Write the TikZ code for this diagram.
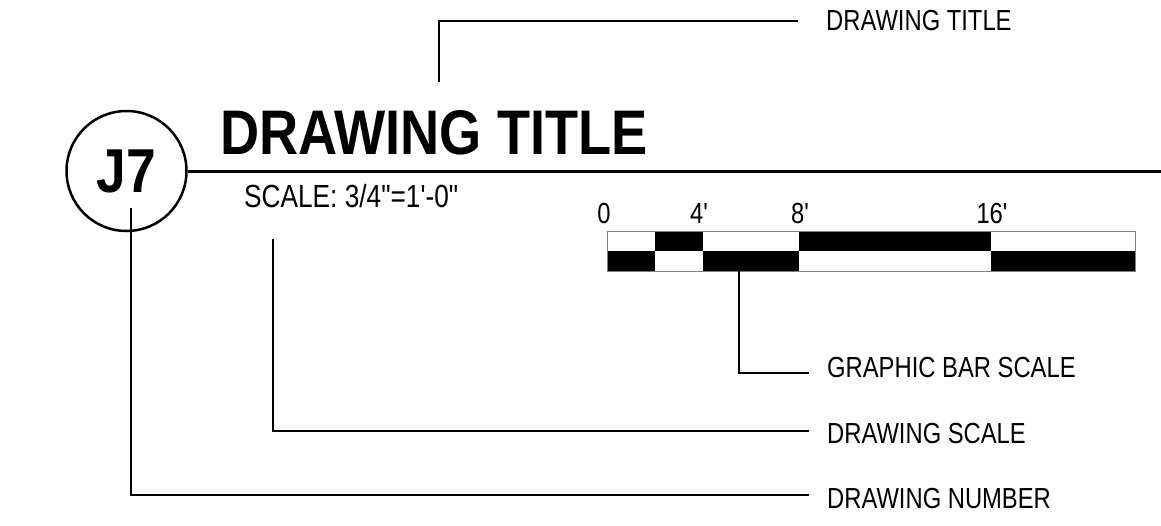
\documentclass[tikz,border=0pt]{standalone}
\usepackage{fontspec}
\usepackage{tikz}
\usetikzlibrary{positioning}
\newfontfamily\cadfont[FakeStretch=0.82]{Liberation Sans}
\newfontfamily\cadbold[FakeStretch=0.86]{Liberation Sans}

\begin{document}
\begin{tikzpicture}[
            x=1pt, y=-1pt,
            leader/.style={line width=1.3pt},
            lbl/.style={anchor=base west, inner sep=0pt,
                        font=\cadfont\fontsize{29}{34}\selectfont},
            barlbl/.style={anchor=base, inner sep=0pt,
                        font=\cadfont\fontsize{29}{34}\selectfont},
            bubble/.style={circle, draw, line width=2.5pt, minimum size=120pt,
                        inner sep=0pt, font=\cadbold\bfseries\fontsize{62}{70}\selectfont}]
            \useasboundingbox (0,0) rectangle (1161,525);

            % title, number and scale
            \node [bubble] (num) at (126.5,171) {J7};
            \node [anchor=base west, inner sep=0pt,
                   font=\cadbold\bfseries\fontsize{63}{70}\selectfont] (title) at (220,154) {DRAWING TITLE};
            \node [lbl, font=\cadfont\fontsize{32}{36}\selectfont] (scale) at (244,207) {SCALE: 3/4"=1'-0"};
            \coordinate (lineend) at (1161,170);
            \draw [line width=3pt] (num.east) -- (num.east -| lineend);

            % graphic bar scale
            \foreach \xa/\xb/\up/\dn in {607/655/white/black, 655/703/black/white,
                    703/799/white/black, 799/991/black/white, 991/1135/white/black}{
                \fill [\up] (\xa,231) rectangle (\xb,251);
                \fill [\dn] (\xa,251) rectangle (\xb,271);
            }
            \draw [gray, line width=1pt] (607,231) rectangle (1135,271);
            \foreach \x/\t in {604/0, 699/4', 800/8', 992/16'}
                \node [barlbl] at (\x,223) {\t};

            % callouts
            \node [lbl] (lbltitle) at (826,30) {DRAWING TITLE};
            \node [lbl] (lblbar) at (827,377) {GRAPHIC BAR SCALE};
            \node [lbl] (lblscale) at (827,443) {DRAWING SCALE};
            \node [lbl] (lblnum) at (827,508) {DRAWING NUMBER};

            \coordinate (titletop) at (439,82);
            \coordinate (bartick) at (739,271);
            \coordinate (scaletop) at (273,239);
            \coordinate (numtop) at (131,208);

            \draw [leader] (titletop) |- (798,21);
            \draw [leader] (bartick) |- (809,373);
            \draw [leader] (scaletop) |- (809,431);
            \draw [leader] (numtop) |- (809,495);

        \end{tikzpicture}
\end{document}
